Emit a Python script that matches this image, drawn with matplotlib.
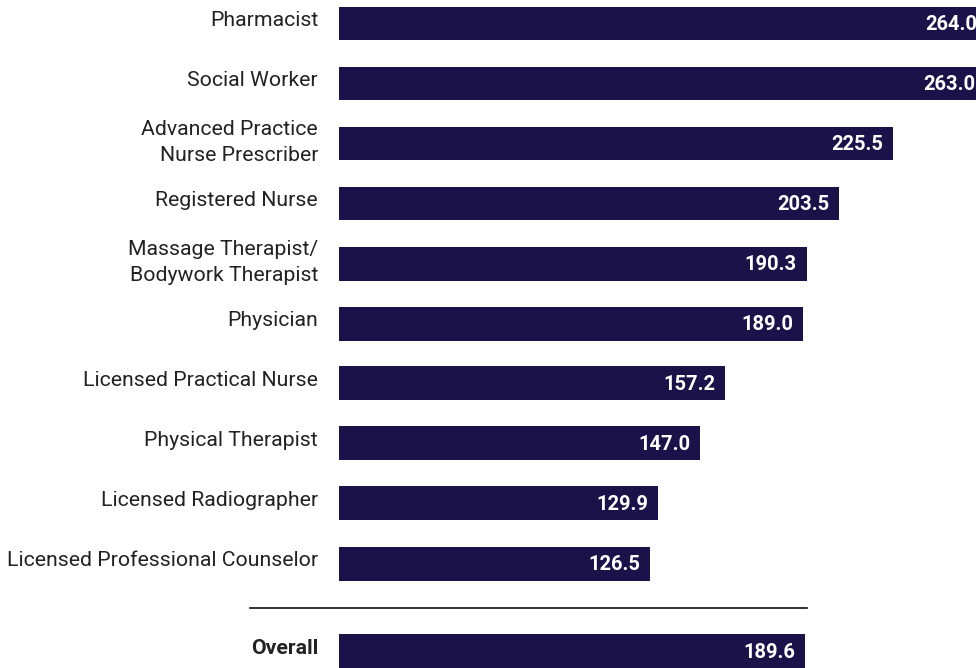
import matplotlib
matplotlib.use("Agg")
import matplotlib.pyplot as plt
import matplotlib.transforms as mtransforms

categories = ["Pharmacist", "Social Worker", "Advanced Practice\nNurse Prescriber",
              "Registered Nurse", "Massage Therapist/\nBodywork Therapist", "Physician",
              "Licensed Practical Nurse", "Physical Therapist", "Licensed Radiographer",
              "Licensed Professional Counselor"]
values = [264.0, 263.0, 225.5, 203.5, 190.3, 189.0, 157.2, 147.0, 129.9, 126.5]
overall_label = "Overall"
overall_value = 189.6

BAR = "#1a1249"
TXT = "#222222"
plt.rcParams['font.family'] = ['Roboto', 'DejaVu Sans']

fig = plt.figure(figsize=(9.76, 6.68), dpi=100)
W, H = 976, 668
x0 = 339
scale = 2.457  # px per unit
xmax = (W - x0) / scale
ax = fig.add_axes([x0 / W, 0, (W - x0) / W, 1])
ax.set_xlim(0, xmax)
top_px, step = 23.5, 60.0
ax.set_ylim((H - top_px) / step, (0 - top_px) / step)
ax.axis("off")

ypos = list(range(len(categories)))
y_over = (651 - top_px) / step
bh = 34 / step

ax.barh(ypos, values, height=bh, color=BAR)
ax.barh([y_over], [overall_value], height=bh, color=BAR)

lab_tr = mtransforms.offset_copy(ax.transData, fig=fig, x=-21, y=3, units='dots')
lab2_tr = mtransforms.offset_copy(ax.transData, fig=fig, x=-21, y=1, units='dots')
val_tr = mtransforms.offset_copy(ax.transData, fig=fig, x=-10, y=-1, units='dots')

for y, c, v in zip(ypos, categories, values):
    tr = lab2_tr if "\n" in c else lab_tr
    ax.text(0, y, c, transform=tr, ha='right', va='center', fontsize=15.3,
            color=TXT, linespacing=1.48, clip_on=False)
    ax.text(v, y, f"{v:.1f}", transform=val_tr, ha='right', va='center', fontsize=14.5,
            color='white', fontweight='bold', clip_on=True)

ax.text(0, y_over, overall_label, transform=lab_tr, ha='right', va='center', fontsize=15.3,
        color=TXT, fontweight='bold', clip_on=False)
ax.text(overall_value, y_over, f"{overall_value:.1f}", transform=val_tr, ha='right',
        va='center', fontsize=14.5, color='white', fontweight='bold', clip_on=True)

# separator line
y_sep = (608 - top_px) / step
ax.plot([(250 - x0) / scale, (807 - x0) / scale], [y_sep, y_sep], color="#111111",
        lw=1.2, clip_on=False)

fig.savefig("out.png", dpi=100)
